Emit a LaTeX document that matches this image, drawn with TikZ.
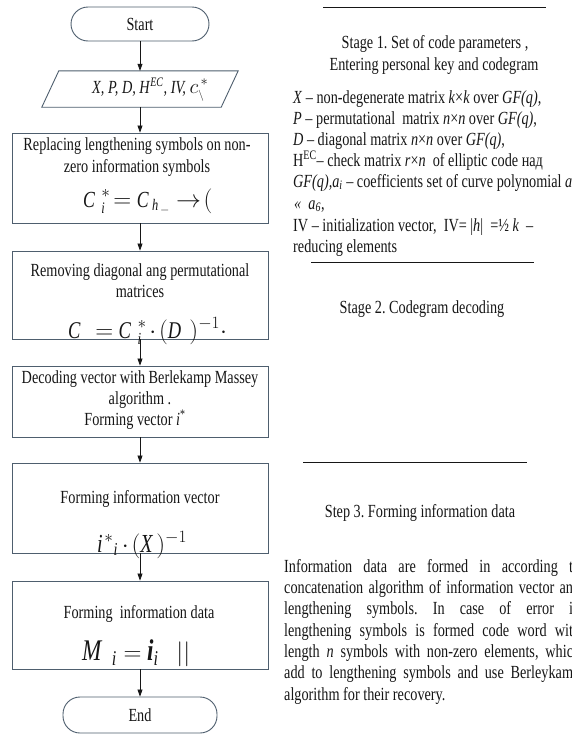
\documentclass[tikz,border=0pt]{standalone}
\usepackage{amsmath}
\usepackage{fontspec}
\setmainfont{Liberation Serif}[FakeStretch=0.77]
\usetikzlibrary{arrows.meta,calc}

\definecolor{frame}{RGB}{78,94,110}
\definecolor{ink}{RGB}{22,22,22}
\newcommand\fsz[1]{\fontsize{#1}{#1}\selectfont}
\frenchspacing

\tikzset{
  box/.style={draw=frame, line width=0.9pt, minimum width=256pt, inner sep=0pt},
  term/.style={draw=frame, line width=0.9pt, rounded corners=17pt, inner sep=0pt,
               text=ink, font=\fsz{18.5}},
  flow/.style={-{Triangle[length=7pt,width=5pt]}, line width=0.7pt, draw=ink},
  txt/.style={anchor=base, inner sep=0pt, text=ink, font=\fsz{18.5}},
  ltxt/.style={txt, anchor=base west},
  formula/.style={ltxt, font={\fsz{#1}\medmuskip=2mu\thickmuskip=4mu}},
  rule/.style={draw=ink, line width=0.9pt},
}

\begin{document}
\begin{tikzpicture}[x=1pt,y=-1pt]
\path[use as bounding box, fill=white] (0,0) rectangle (572,734);
\clip (0,0) rectangle (572,734);

% ---------- flowchart ----------
\node[term, minimum width=138pt, minimum height=34pt] (start) at (140,24) {Start};

\node[inner sep=0pt, minimum width=179pt, minimum height=36pt] (input) at (140,89) {};
\draw[draw=frame, line width=0.9pt]
  ($(input.north west)+(8.5,0)$) -- ($(input.north east)+(8.5,0)$) --
  ($(input.south east)+(-8.5,0)$) -- ($(input.south west)+(-8.5,0)$) -- cycle;
\node[ltxt] (inputtext) at (92,93)
  {\textit{X, P, D, H}\textsuperscript{\textit{EC}}\textit{, IV,} {\fsz{22}$c^{\,*}_{\scriptscriptstyle\backslash}$}};

\node[box, minimum height=90pt] (b1) at (140,178) {};
\node[txt] (b1a) at (137,150) {Replacing lengthening symbols on non-};
\node[txt] (b1b) at (137,172) {zero information symbols};
\node[formula=23] (b1f) at (83,207)
  {$\mathit{C}_{\,\mathit{i}}^{\,*}\mathrel{\mskip-2mu=}\mathit{C}_{\mathit{h}_{-}}\mathrel{\rightarrow}\mskip-2mu($};

\node[box, minimum height=88pt] (b2) at (140,295) {};
\node[txt] (b2a) at (140,276) {Removing diagonal ang permutational};
\node[txt] (b2b) at (140,297) {matrices};
\node[formula=24] (b2f) at (68,338)
  {$\mathit{C}\;=\mathit{C}_{\,\mathit{i}}^{\,*}\cdot(\mathit{D}\,)^{-1}\cdot$};

\node[box, minimum height=71pt] (b3) at (140,401.5) {};
\node[txt] (b3a) at (140,383) {Decoding vector with Berlekamp Massey};
\node[txt] (b3b) at (140,404) {algorithm .};
\node[txt] (b3c) at (135,425) {Forming vector \textit{i}\textsuperscript{*}};

\node[box, minimum height=90pt] (b4) at (140,508) {};
\node[txt] (b4a) at (140,503) {Forming information vector};
\node[formula=26] (b4f) at (97,552)
  {$\mathit{i}^{*}{}_{\mathit{i}}\cdot(\mathit{X})^{-1}$};

\node[box, minimum height=88pt] (b5) at (140,625) {};
\node[txt] (b5a) at (139,618) {Forming\ \ information data};
\node[formula=30] (b5f) at (82,660)
  {$\mathit{M}_{\;\mathit{i}}=\text{\bfseries\itshape i}_{\mathit{i}}\;\;\;||$};

\node[term, minimum width=154pt, minimum height=36pt] (end) at (140,715) {End};

\draw[flow] (start) -- (input);
\draw[flow] (input) -- (b1);
\draw[flow] (b1) -- (b2);
\draw[flow] (b2) -- (b3);
\draw[flow] (b3) -- (b4);
\draw[flow] (b4) -- (b5);
\draw[flow] (b5) -- (end);

% ---------- stage descriptions ----------
\draw[rule] (323,7) -- (546,7);
\node[txt] (s1a) at (435,48) {Stage 1. Set of code parameters ,};
\node[txt] (s1b) at (434,70) {Entering personal key and codegram};

\node[ltxt] (l1) at (293,103) {\textit{X} – non-degenerate matrix \textit{k}×\textit{k} over \textit{GF(q)},};
\node[ltxt] (l2) at (293,124) {\textit{P} – permutational\ \ matrix \textit{n}×\textit{n} over \textit{GF(q)},};
\node[ltxt] (l3) at (293,145) {\textit{D} – diagonal matrix \textit{n}×\textit{n} over \textit{GF(q)},};
\node[ltxt] (l4) at (293,166) {H\textsuperscript{EC}– check matrix \textit{r}×\textit{n}\ \ of elliptic code над};
\node[ltxt] (l5) at (293,187) {\textit{GF(q),a}\textsubscript{\textit{i}} – coefficients set of curve polynomial \textit{a}\textsubscript{\textit{1}}};
\node[ltxt] (l6) at (294,209) {\textit{«\ \ a}\textsubscript{\textit{6}},};
\node[ltxt] (l7) at (293,231) {IV – initialization vector,\ \ IV= |\textit{h}|\ \ =½ \textit{k}\ \ –};
\node[ltxt] (l8) at (293,252) {reducing elements};

\draw[rule] (311,262) -- (534,262);
\node[txt] (s2) at (422,313) {Stage 2. Codegram decoding};

\draw[rule] (303,462) -- (527,462);
\node[txt] (s3) at (420,517) {Step 3. Forming information data};

\node[ltxt] (p1) at (284,572) {\makebox[296pt][s]{Information data are formed in according to}};
\node[ltxt] (p2) at (284,593) {\makebox[296pt][s]{concatenation algorithm of information vector and}};
\node[ltxt] (p3) at (284,614) {\makebox[296pt][s]{lengthening symbols. In case of error in}};
\node[ltxt] (p4) at (284,636) {\makebox[296pt][s]{lengthening symbols is formed code word with}};
\node[ltxt] (p5) at (284,657) {\makebox[296pt][s]{length \textit{n} symbols with non-zero elements, which}};
\node[ltxt] (p6) at (284,678) {\makebox[296pt][s]{add to lengthening symbols and use Berleykamp}};
\node[ltxt] (p7) at (284,700) {algorithm for their recovery.};
\end{tikzpicture}
\end{document}
